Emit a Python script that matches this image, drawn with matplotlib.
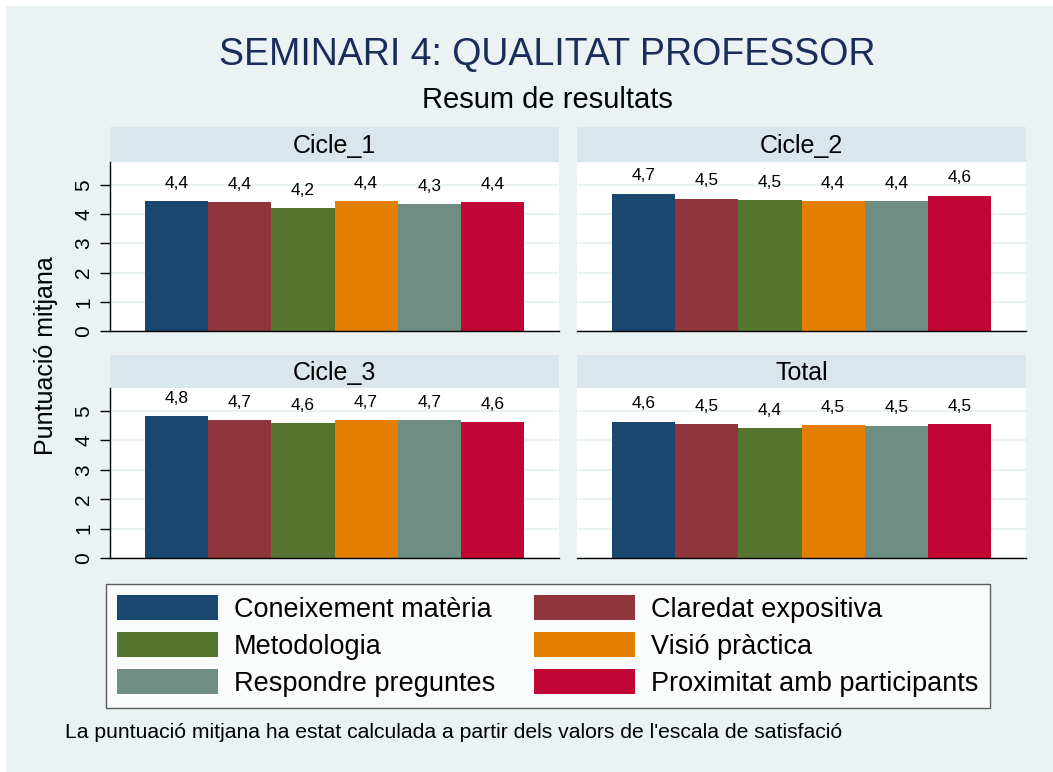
import matplotlib
matplotlib.use("Agg")
import matplotlib.pyplot as plt
from matplotlib.patches import Rectangle
import numpy as np

plt.rcParams['font.family'] = ['Liberation Sans', 'DejaVu Sans']

# data
categories = ["Coneixement matèria", "Claredat expositiva", "Metodologia",
              "Visió pràctica", "Respondre preguntes", "Proximitat amb participants"]
panels = ["Cicle_1", "Cicle_2", "Cicle_3", "Total"]
cicle_1 = [4.44, 4.41, 4.21, 4.44, 4.33, 4.41]
cicle_2 = [4.70, 4.53, 4.49, 4.44, 4.44, 4.63]
cicle_3 = [4.82, 4.69, 4.58, 4.69, 4.68, 4.62]
total = [4.64, 4.54, 4.42, 4.52, 4.50, 4.54]
yticks = [0, 1, 2, 3, 4, 5]

colors = ["#1A476F", "#90353B", "#55752F", "#E37E00", "#6E8E84", "#C10534"]
BG = "#EAF2F3"
STRIP = "#D9E6EB"

W, H = 1053, 772
fig = plt.figure(figsize=(W / 100, H / 100), dpi=100)
fig.patch.set_facecolor("white")
fig.patches.append(Rectangle((6 / W, 0), 1, 1 - 6 / H, transform=fig.transFigure,
                             facecolor=BG, edgecolor="none", zorder=-10))

def fbox(x0, y0, x1, y1):
    # pixel box (top-left origin) -> figure fraction rect
    return [x0 / W, 1 - y1 / H, (x1 - x0) / W, (y1 - y0) / H]

cols = [(110, 559), (577, 1026)]
rows = [((127, 162), (162, 331)), ((355, 388), (388, 558))]
series = [cicle_1, cicle_2, cicle_3, total]

x = np.arange(len(categories))
bars_for_legend = None
for i, (name, vals) in enumerate(zip(panels, series)):
    r, c = divmod(i, 2)
    (sy0, sy1), (py0, py1) = rows[r]
    cx0, cx1 = cols[c]

    sax = fig.add_axes(fbox(cx0, sy0, cx1, sy1))
    sax.set_facecolor(STRIP)
    sax.set_xticks([]); sax.set_yticks([])
    for s in sax.spines.values():
        s.set_visible(False)
    sax.text(0.5, 0.45, name, ha="center", va="center", fontsize=18, transform=sax.transAxes)

    ax = fig.add_axes(fbox(cx0, py0, cx1, py1))
    ax.set_facecolor("white")
    bars = ax.bar(x, vals, width=1.0, color=colors, zorder=3)
    if bars_for_legend is None:
        bars_for_legend = bars
    for xi, v in zip(x, vals):
        ax.annotate(f"{v:.1f}".replace(".", ","), (xi, v), xytext=(0, 9.5),
                    textcoords="offset points", ha="center", va="baseline", fontsize=12.5)
    ax.set_xlim(-1.05, 6.05)
    ax.set_ylim(0, 5.78)
    ax.set_yticks(yticks)
    ax.grid(axis="y", color=BG, lw=1.6, zorder=0)
    ax.set_xticks([])
    ax.spines["top"].set_visible(False)
    ax.spines["right"].set_visible(False)
    ax.spines["bottom"].set_color("black")
    ax.spines["bottom"].set_linewidth(1.0)
    ax.spines["bottom"].set_zorder(4)
    if c == 0:
        ax.spines["left"].set_color("black")
        ax.spines["left"].set_linewidth(1.0)
        ax.tick_params(axis="y", length=7, width=1, pad=5, labelsize=15, labelrotation=90)
        for lab in ax.get_yticklabels():
            lab.set_va("center")
    else:
        ax.spines["left"].set_visible(False)
        ax.tick_params(axis="y", length=0, labelleft=False)

fig.text(547 / W, 1 - 55 / H, "SEMINARI 4: QUALITAT PROFESSOR", ha="center", va="center",
         fontsize=27, color="#1A2D5A")
fig.text(547 / W, 1 - 100 / H, "Resum de resultats", ha="center", va="center", fontsize=21)
fig.text(46 / W, 1 - 356 / H, "Puntuació mitjana", ha="center", va="center",
         rotation=90, fontsize=18)

# row-major legend order like the reference
order = [0, 2, 4, 1, 3, 5]
leg = fig.legend([bars_for_legend[k] for k in order], [categories[k] for k in order],
                 ncol=2, loc="upper left",
                 bbox_to_anchor=(106 / W, 1 - 584 / H), fontsize=19.5,
                 handlelength=3.7, handleheight=1.05, handletextpad=0.6,
                 columnspacing=1.45, labelspacing=0.33, borderpad=0.42,
                 borderaxespad=0, frameon=True, fancybox=False)
leg.get_frame().set_edgecolor("#333333")
leg.get_frame().set_linewidth(1.0)
leg.get_frame().set_facecolor("white")

fig.text(65 / W, 1 - 732 / H,
         "La puntuació mitjana ha estat calculada a partir dels valors de l'escala de satisfació",
         ha="left", va="center", fontsize=15.2)

fig.savefig("out.png", dpi=100, facecolor=fig.get_facecolor())
